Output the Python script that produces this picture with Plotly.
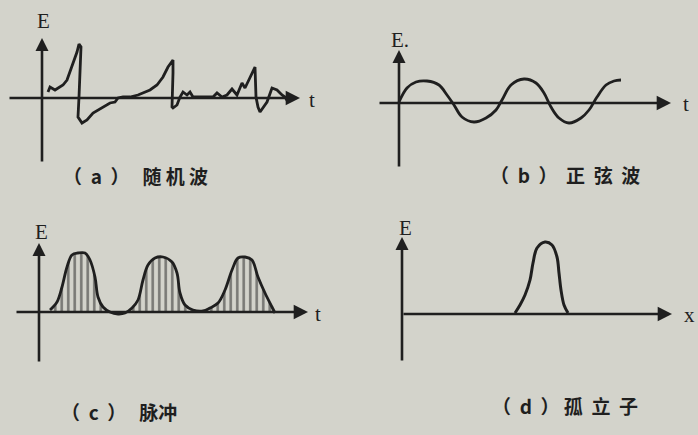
import plotly.graph_objects as go

W, H = 698, 435
INK = "#1f1f1f"
BG = "#d3d3cb"

# (a) random wave
a_t = [0.6, 0.8, 1.3, 1.8, 2.1, 2.5, 3.0, 3.5, 3.7, 3.9, 3.7, 3.6, 4.0, 4.5, 5.1, 6.0, 6.8, 7.3,
       7.6, 8.1, 8.8, 9.6, 10.1, 10.8, 11.5, 12.1, 12.6, 13.1, 13.1, 13.0, 13.1, 13.5, 13.8, 14.1,
       14.5, 14.8, 15.1, 17.1, 17.5, 18.0, 18.5, 19.0, 19.5, 20.0, 20.3, 21.0, 21.3, 21.4, 21.6,
       21.8, 22.1, 22.5, 23.0, 23.5, 24.0, 24.3, 24.6]
a_E = [0.6, 1.1, 0.8, 1.1, 1.3, 1.8, 3.1, 4.6, 5.4, 5.1, 0.1, -1.9, -2.5, -2.2, -1.5, -1.0, -0.5,
       -0.4, 0.0, 0.1, 0.1, 0.3, 0.5, 0.8, 1.3, 2.1, 3.1, 3.8, 2.5, -0.9, -1.0, -0.7, 0.1, 0.6,
       0.3, 0.6, 0.1, 0.1, 0.5, 0.1, 0.3, 0.9, 0.3, 1.5, 1.0, 2.5, 3.1, 0.1, -0.9, -1.4, -1.0,
       -0.4, 1.0, 0.8, 0.3, 0.1, -0.4]

# (b) sine wave
b_t = [0.0, 0.8, 1.7, 2.8, 4.0, 4.8, 5.5, 6.3, 7.5, 8.7, 9.7, 10.3, 11.2, 12.5, 13.7, 14.5, 15.2,
       16.0, 17.0, 18.2, 19.0, 19.8, 20.7, 21.5, 22.2]
b_E = [0.1, 1.5, 2.1, 2.2, 1.8, 0.8, -0.2, -1.4, -1.9, -1.5, -0.7, 0.3, 1.8, 2.4, 2.0, 1.0, -0.4,
       -1.5, -2.0, -1.5, -0.7, 0.6, 1.8, 2.2, 2.3]

# (c) pulses
c_t = [1.1, 1.8, 2.3, 2.8, 3.3, 3.9, 4.6, 5.1, 5.6, 5.9, 6.4, 7.1, 7.9, 8.6, 9.3, 9.9, 10.4, 10.9,
       11.6, 12.4, 13.3, 13.8, 14.1, 14.6, 15.4, 16.4, 17.1, 17.9, 18.6, 19.3, 19.9, 20.6, 21.3,
       21.9, 22.6, 23.3, 23.6]
c_E = [0.2, 1.0, 2.5, 4.5, 5.7, 5.9, 5.9, 5.2, 3.5, 1.5, 0.5, 0.0, -0.2, -0.1, 0.4, 1.2, 3.2, 4.7,
       5.4, 5.5, 5.0, 3.9, 1.9, 0.7, 0.2, 0.1, 0.4, 0.9, 2.2, 4.2, 5.4, 5.5, 5.2, 3.5, 1.9, 0.5, -0.1]

# (d) soliton
d_x = [11.3, 11.8, 12.3, 12.8, 13.1, 13.5, 14.3, 15.0, 15.5, 15.7, 15.9, 16.2, 16.6]
d_E = [0.1, 0.9, 1.9, 3.4, 5.1, 6.6, 7.2, 6.9, 5.7, 4.1, 2.4, 0.9, 0.1]

captions = ["（  a  ）   随 机 波", "（  b  ）  正  弦  波", "（  c  ）   脉冲", "（  d  ） 孤  立  子"]
h_labels = ["t", "t", "t", "x"]
v_labels = ["E", "E.", "E", "E"]

S = 10.0  # px per data unit
panels = [
    dict(box=(0, 349, 0, 200), o=(42, 98), h=(-3.4, 25.8), v=(6.0, -6.5),
         hl=(312, 100), vl=(43, 21), cap=(135, 175)),
    dict(box=(349, 698, 0, 200), o=(399, 103), h=(-2.1, 27.2), v=(5.3, -6.5),
         hl=(686, 104), vl=(400, 40), cap=(565, 174)),
    dict(box=(0, 349, 200, 435), o=(39, 312), h=(-2.4, 26.9), v=(6.9, -5.1),
         hl=(318, 314), vl=(41, 232), cap=(119, 411)),
    dict(box=(349, 698, 200, 435), o=(402, 314), h=(0.0, 27.0), v=(7.7, -4.8),
         hl=(689, 315), vl=(406, 228), cap=(565, 405)),
]

fig = go.Figure()
layout = dict(width=W, height=H, margin=dict(l=0, r=0, t=0, b=0),
              paper_bgcolor=BG, plot_bgcolor=BG, showlegend=False)
annotations = []

for i, p in enumerate(panels):
    x0, x1, y0, y1 = p["box"]
    ox, oy = p["o"]
    xn = "xaxis" if i == 0 else f"xaxis{i+1}"
    yn = "yaxis" if i == 0 else f"yaxis{i+1}"
    xr = "x" if i == 0 else f"x{i+1}"
    yr = "y" if i == 0 else f"y{i+1}"
    layout[xn] = dict(domain=[x0 / W, x1 / W], range=[(x0 - ox) / S, (x1 - ox) / S],
                      visible=False, anchor=yr, fixedrange=True)
    layout[yn] = dict(domain=[1 - y1 / H, 1 - y0 / H], range=[(oy - y1) / S, (oy - y0) / S],
                      visible=False, anchor=xr, fixedrange=True)
    annotations.append(dict(x=p["h"][1], y=0, ax=p["h"][0], ay=0, xref=xr, yref=yr,
                            axref=xr, ayref=yr, text="", showarrow=True, arrowhead=2,
                            arrowsize=1.1, arrowwidth=2.6, arrowcolor=INK, standoff=0))
    annotations.append(dict(x=0, y=p["v"][0], ax=0, ay=p["v"][1], xref=xr, yref=yr,
                            axref=xr, ayref=yr, text="", showarrow=True, arrowhead=2,
                            arrowsize=1.0, arrowwidth=2.6, arrowcolor=INK, standoff=0))
    common = dict(xref="paper", yref="paper", showarrow=False, xanchor="center", yanchor="middle")
    annotations.append(dict(x=p["hl"][0] / W, y=1 - p["hl"][1] / H, text=h_labels[i],
                            font=dict(family="Liberation Serif", size=21, color=INK), **common))
    annotations.append(dict(x=p["vl"][0] / W, y=1 - p["vl"][1] / H, text=v_labels[i],
                            font=dict(family="Liberation Serif", size=21, color=INK), **common))
    annotations.append(dict(x=p["cap"][0] / W, y=1 - p["cap"][1] / H, text=captions[i],
                            font=dict(family="Noto Sans CJK SC", size=19, color=INK,
                                      weight="bold"), **common))

fig.add_trace(go.Scatter(x=a_t, y=a_E, mode="lines", line=dict(color=INK, width=2.8),
                         xaxis="x", yaxis="y"))
fig.add_trace(go.Scatter(x=b_t, y=b_E, mode="lines", line=dict(color=INK, width=2.8, shape="spline"),
                         xaxis="x2", yaxis="y2"))
fig.add_trace(go.Scatter(x=c_t, y=c_E, mode="lines", line=dict(color=INK, width=2.8, shape="spline"),
                         fill="tozeroy", fillcolor="rgba(0,0,0,0)",
                         fillpattern=dict(shape="|", fgcolor=INK, bgcolor="rgba(0,0,0,0)",
                                          size=6.5, solidity=0.4),
                         xaxis="x3", yaxis="y3"))
fig.add_trace(go.Scatter(x=d_x, y=d_E, mode="lines", line=dict(color=INK, width=3, shape="spline"),
                         xaxis="x4", yaxis="y4"))

layout["annotations"] = annotations
fig.update_layout(**layout)
fig.write_html("out.html", config={"displayModeBar": False},
               post_script="document.body.style.margin='0px';document.body.style.background='%s';" % BG)
